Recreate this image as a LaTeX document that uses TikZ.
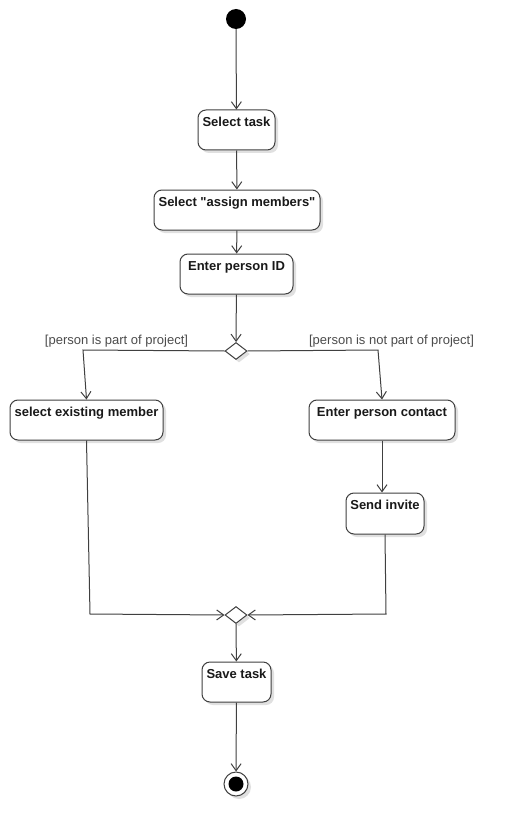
\documentclass[tikz,border=0pt]{standalone}
\usepackage{fontspec}
\setmainfont{Liberation Sans}
\usetikzlibrary{arrows.meta,shapes.geometric,shadows}
\begin{document}
\begin{tikzpicture}[x=1pt,y=-1pt,
  lc/.style={draw=black!75, line width=1pt},
  shad/.style={drop shadow={shadow xshift=3pt, shadow yshift=-3pt, fill=black!12, opacity=1}},
  act/.style={lc, rounded corners=8pt, fill=white, shad, inner sep=0pt, minimum height=40pt,
    label={[anchor=north, inner sep=0pt, label distance=-7.5pt, font=\fontsize{13}{15}\selectfont\bfseries, text=black!90]north:#1}},
  dec/.style={lc, fill=white, shad, diamond, inner sep=0pt, minimum width=22pt, minimum height=17pt},
  arr/.style={draw=black!75, line width=1pt, -{Straight Barb[length=7pt,width=10pt]}},
  guard/.style={font=\fontsize{13}{15}\selectfont, text=black!70, inner sep=0pt}
]
\useasboundingbox (0,0) rectangle (512,837);
\fill[white] (0,0) rectangle (512,837);

\node[circle, fill=black, minimum size=20pt, inner sep=0pt] (start) at (236,19) {};

\node[act={Select task}, minimum width=77pt] (t1) at (236.5,130) {};
\node[act={Select \textquotedbl assign members\textquotedbl}, minimum width=166pt] (t2) at (237,210) {};
\node[act={Enter person ID}, minimum width=113pt] (t3) at (236.5,274) {};
\node[dec] (d1) at (236,351) {};
\node[act={select existing member}, minimum width=153pt] (t4) at (86.5,420) {};
\node[act={Enter person contact}, minimum width=146pt] (t5) at (382,420) {};
\node[act={Send invite}, minimum width=78pt, minimum height=41pt] (t6) at (385,513.5) {};
\node[dec] (d2) at (236,615) {};
\node[act={Save task}, minimum width=69pt] (t7) at (236.5,682) {};
\node[circle, lc, fill=white, shad, minimum size=24pt, inner sep=0pt] (endo) at (236,784) {};
\node[circle, fill=black, minimum size=15pt, inner sep=0pt] (endi) at (endo) {};

\node[guard] (g1) at (116.5,341) {[person is part of project]};
\node[guard] (g2) at (391.5,341) {[person is not part of project]};

\coordinate (b1) at (83,350);
\coordinate (b2) at (378,350);
\coordinate (b3) at (90,614);
\coordinate (b4) at (386,614);

\draw[arr] (start) -- (t1);
\draw[arr] (t1) -- (t2);
\draw[arr] (t2) -- (t3);
\draw[arr] (t3) -- (d1);
\draw[arr] (d1.west) -- (b1) -- (t4.north);
\draw[arr] (d1.east) -- (b2) -- (t5.north);
\draw[arr] (t5.south) -- (t5.south |- t6.north);
\draw[arr] (t4.south) -- (b3) -- (d2.west);
\draw[arr] (t6.south) -- (b4) -- (d2.east);
\draw[arr] (d2) -- (t7);
\draw[arr] (t7) -- (endo);
\end{tikzpicture}
\end{document}
